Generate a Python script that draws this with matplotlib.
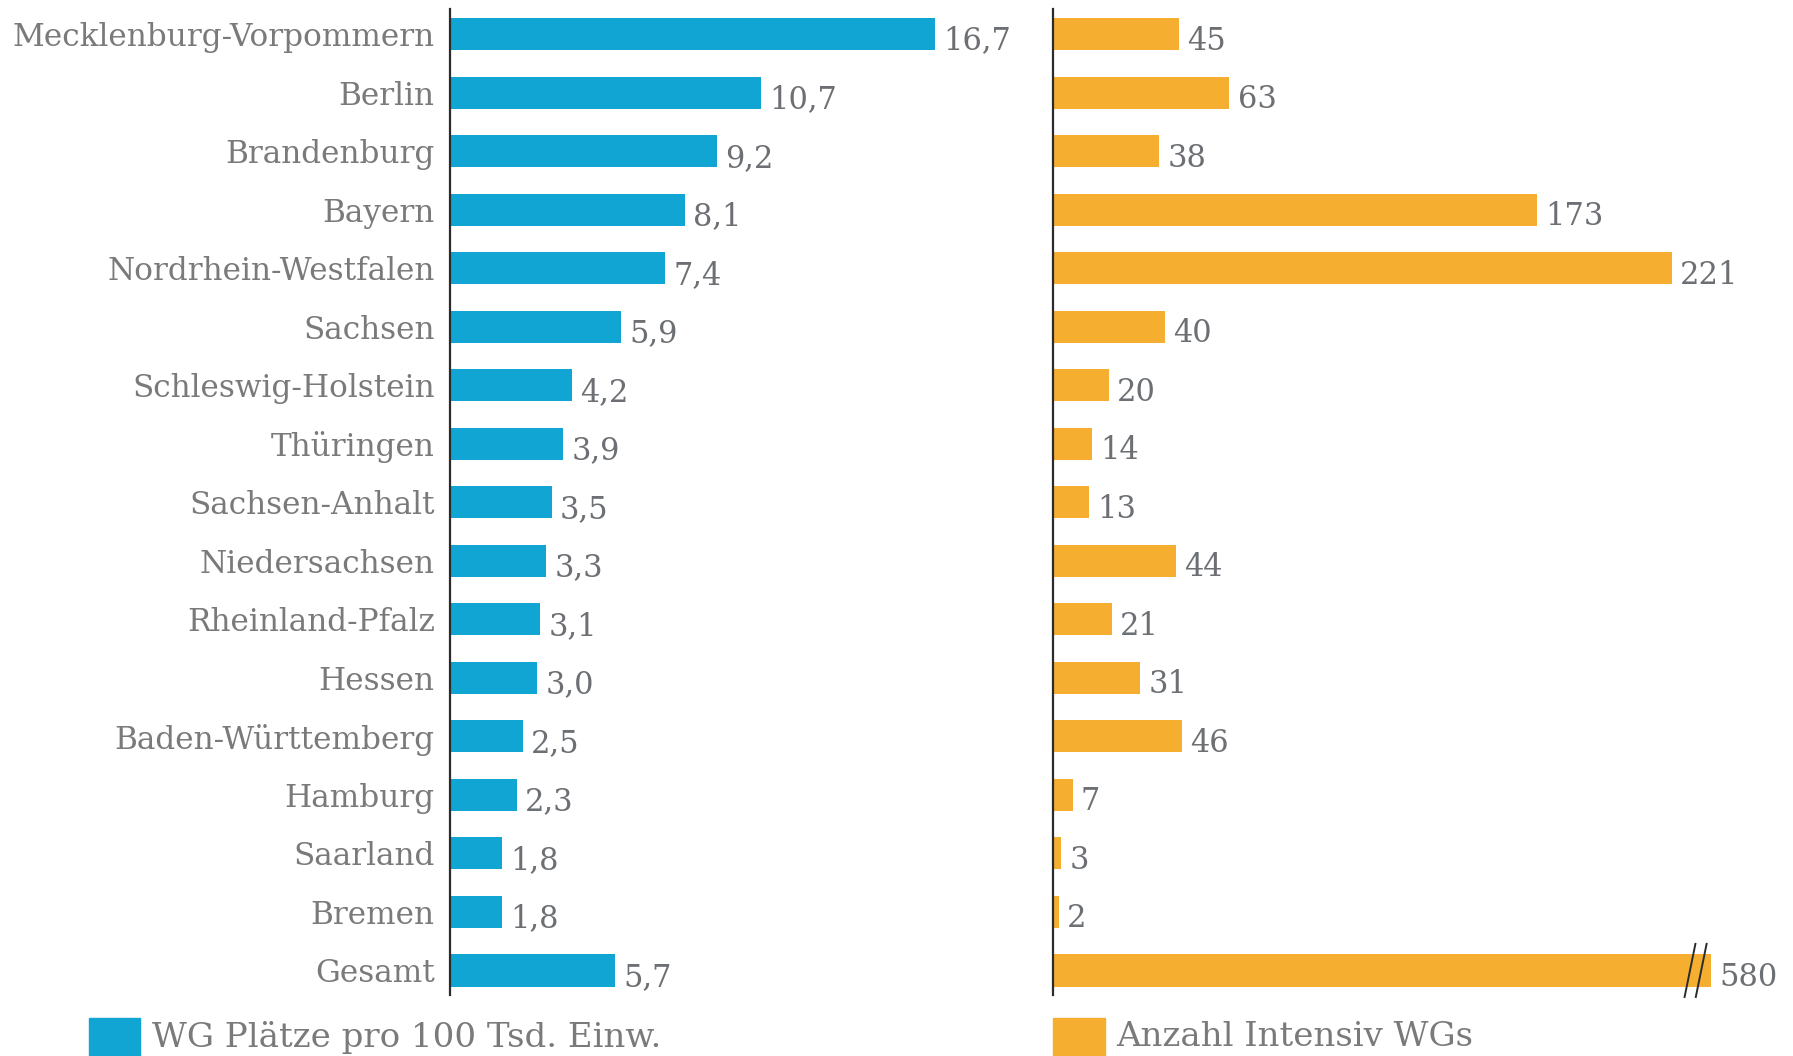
import numpy as np
import matplotlib
matplotlib.use("Agg")
import matplotlib.pyplot as plt
from matplotlib.patches import Rectangle

# Data per Bundesland (last row = Gesamt)
laender = [
    "Mecklenburg-Vorpommern", "Berlin", "Brandenburg", "Bayern",
    "Nordrhein-Westfalen", "Sachsen", "Schleswig-Holstein", "Thüringen",
    "Sachsen-Anhalt", "Niedersachsen", "Rheinland-Pfalz", "Hessen",
    "Baden-Württemberg", "Hamburg", "Saarland", "Bremen", "Gesamt",
]
wg_plaetze = [16.7, 10.7, 9.2, 8.1, 7.4, 5.9, 4.2, 3.9, 3.5, 3.3, 3.1, 3.0,
              2.5, 2.3, 1.8, 1.8, 5.7]
intensiv_wgs = [45, 63, 38, 173, 221, 40, 20, 14, 13, 44, 21, 31, 46, 7, 3, 2, 580]

legend_left = "WG Plätze pro 100 Tsd. Einw."
legend_right = "Anzahl Intensiv WGs"

BLUE = "#10a5d3"
ORANGE = "#f5ae2f"
LABEL_GREY = "#7a7a7a"
VALUE_GREY = "#6c6f73"
AXIS_COL = "#2b2b2b"

plt.rcParams["font.family"] = ["DejaVu Serif"]

W, H = 1793, 1056
fig = plt.figure(figsize=(W / 100, H / 100), dpi=100)

y = np.arange(len(laender))
top_px, bot_px = 9, 995
ylim = (16.42, -0.43)
bar_h = 0.55


def px_axes(left_px, width_px):
    return fig.add_axes([left_px / W, 1 - bot_px / H, width_px / W, (bot_px - top_px) / H])


def style(ax):
    for s in ("top", "right", "bottom"):
        ax.spines[s].set_visible(False)
    ax.spines["left"].set_color(AXIS_COL)
    ax.spines["left"].set_linewidth(1.6)
    ax.set_ylim(*ylim)
    ax.set_xticks([])
    ax.patch.set_alpha(0)


# left panel: WG places per 100k inhabitants
ax1 = px_axes(450, 20 * 29.03)
ax1.barh(y, wg_plaetze, height=bar_h, color=BLUE)
ax1.set_xlim(0, 20)
style(ax1)
ax1.set_yticks(y)
ax1.set_yticklabels(laender, fontsize=22.4, color=LABEL_GREY)
ax1.tick_params(axis="y", length=0, pad=11)
for yi, v in zip(y, wg_plaetze):
    ax1.annotate(f"{v:.1f}".replace(".", ","), (v, yi), xytext=(6, -5),
                 textcoords="offset points", va="center", ha="left",
                 fontsize=22, color=VALUE_GREY)

# right panel: number of intensive-care WGs, Gesamt bar is cut off
cap = 235
ax2 = px_axes(1053, cap * 2.80)
ax2.barh(y, intensiv_wgs, height=bar_h, color=ORANGE)
ax2.set_xlim(0, cap)
style(ax2)
ax2.set_yticks([])
for yi, v in zip(y, intensiv_wgs):
    xv = min(v, cap)
    ax2.annotate(f"{v}", (xv, yi), xytext=(6, -5),
                 textcoords="offset points", va="center", ha="left",
                 fontsize=22, color=VALUE_GREY, annotation_clip=False)

# break marks on the truncated bar
last = y[-1]
for xb in (cap - 7.5, cap - 3.5):
    ax2.plot([xb - 2, xb + 2], [last + 0.47, last - 0.47], color=AXIS_COL,
             lw=1.4, clip_on=False, solid_capstyle="butt")

# legend squares + text
fig.patches.append(Rectangle((89 / W, 1 - 1056 / H), 51 / W, 38 / H,
                             transform=fig.transFigure, color=BLUE))
fig.text(152 / W, 1 - 1037 / H, legend_left, fontsize=24.5, color=LABEL_GREY,
         va="center", ha="left")
fig.patches.append(Rectangle((1053 / W, 1 - 1056 / H), 52 / W, 38 / H,
                             transform=fig.transFigure, color=ORANGE))
fig.text(1116 / W, 1 - 1037 / H, legend_right, fontsize=24.5, color=LABEL_GREY,
         va="center", ha="left")

fig.savefig("out.png", dpi=100, facecolor="white")
